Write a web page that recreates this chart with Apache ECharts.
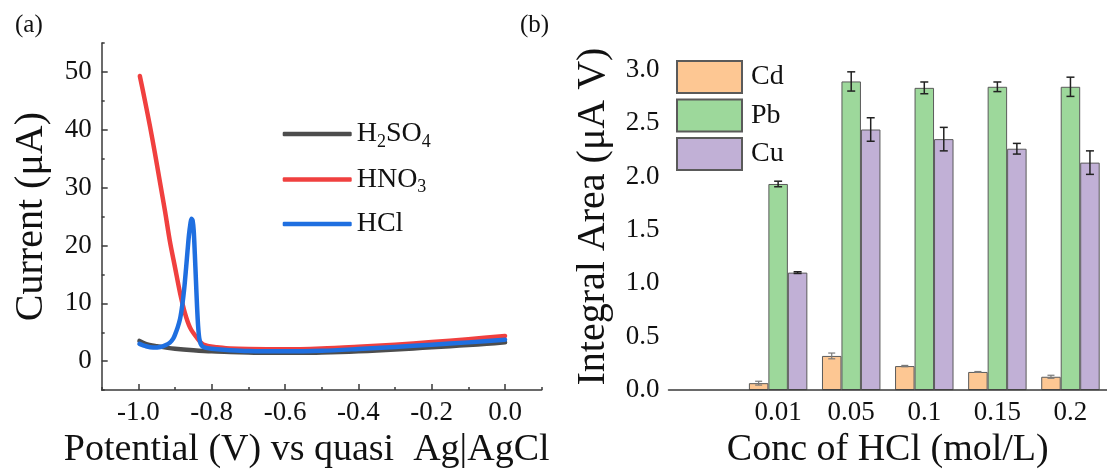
<!DOCTYPE html>
<html>
<head>
<meta charset="utf-8">
<script src="https://cdn.jsdelivr.net/npm/echarts@6/dist/echarts.min.js"></script>
<style>
  html, body { margin: 0; padding: 0; background: #fff; }
  #chart { width: 1107px; height: 474px; }
</style>
</head>
<body>
<div id="chart"></div>
<script>
// ---- Panel (a): current vs potential in three acids ----
const h2so4V = [-0.997, -0.98, -0.95, -0.92, -0.9, -0.85, -0.8, -0.75, -0.7, -0.65, -0.6, -0.55, -0.5, -0.45, -0.4, -0.35, -0.3, -0.25, -0.2, -0.15, -0.1, -0.05, 0.0];
const h2so4I = [3.5, 3.0, 2.6, 2.3, 2.15, 1.9, 1.7, 1.6, 1.5, 1.45, 1.45, 1.45, 1.5, 1.6, 1.7, 1.85, 2.0, 2.2, 2.4, 2.6, 2.8, 3.0, 3.25];

const hno3V = [-0.996, -0.982, -0.968, -0.955, -0.941, -0.927, -0.914, -0.900, -0.886, -0.873, -0.859, -0.841, -0.823, -0.786, -0.75, -0.7, -0.6, -0.5, -0.4, -0.3, -0.2, -0.1, 0.0];
const hno3I = [49.3, 45.0, 40.5, 36.0, 30.9, 25.8, 20.7, 16.2, 11.7, 8.3, 5.8, 4.1, 2.9, 2.4, 2.2, 2.1, 2.05, 2.2, 2.5, 2.85, 3.3, 3.8, 4.35];

const hclV = [-0.997, -0.98, -0.96, -0.94, -0.925, -0.914, -0.905, -0.9, -0.893, -0.886, -0.88, -0.875, -0.87, -0.866, -0.862, -0.858, -0.855, -0.852, -0.849, -0.846, -0.843, -0.84, -0.837, -0.834, -0.83, -0.824, -0.815, -0.8, -0.75, -0.7, -0.6, -0.5, -0.4, -0.3, -0.2, -0.1, 0.0];
const hclI = [3.0, 2.6, 2.35, 2.45, 2.8, 3.2, 3.9, 4.6, 5.8, 7.4, 9.8, 12.5, 16.0, 19.0, 21.8, 23.8, 24.6, 24.3, 22.5, 18.5, 14.0, 9.5, 6.0, 4.0, 3.0, 2.5, 2.3, 2.15, 1.9, 1.75, 1.7, 1.8, 2.1, 2.45, 2.85, 3.25, 3.7];

const potentialTicks = [-1.0, -0.8, -0.6, -0.4, -0.2, 0.0];
const currentTicks = [0, 10, 20, 30, 40, 50];

// ---- Panel (b): integral peak area vs HCl concentration ----
const concLabels = ['', '0.01', '0.05', '0.1', '0.15', '0.2'];
const cdArea = [null, 0.065, 0.32, 0.225, 0.17, 0.125];
const pbArea = [null, 1.93, 2.89, 2.83, 2.84, 2.84];
const cuArea = [null, 1.10, 2.44, 2.35, 2.26, 2.13];
const cdErr = [null, 0.018, 0.027, 0.006, 0.004, 0.014];
const pbErr = [null, 0.026, 0.09, 0.055, 0.045, 0.09];
const cuErr = [null, 0.008, 0.11, 0.11, 0.05, 0.11];
const areaTicks = [0, 0.5, 1.0, 1.5, 2.0, 2.5, 3.0];

const FONT = 'Liberation Serif';
const AXIS_COLOR = '#3a3a3a';

function pairs(xs, ys) { return xs.map((x, i) => [x, ys[i]]); }

function errData(vals, errs) {
  const out = [];
  vals.forEach((v, i) => { if (v != null) out.push([i, v, errs[i]]); });
  return out;
}

// error bars placed at the centre of the n-th bar within each category
function errRender(slot, color, lw, capHalf) {
  return function (params, api) {
    const ci = api.value(0), v = api.value(1), e = api.value(2);
    const band = api.size([1, 0])[0];
    const bw = band * 0.8 / 3;
    const c = api.coord([ci, v]);
    const x = c[0] + (slot - 1) * bw;
    const top = api.coord([ci, v + e])[1];
    const bot = api.coord([ci, v - e])[1];
    const st = { stroke: color, lineWidth: lw };
    return {
      type: 'group',
      children: [
        { type: 'line', shape: { x1: x, y1: top, x2: x, y2: bot }, style: st },
        { type: 'line', shape: { x1: x - capHalf, y1: top, x2: x + capHalf, y2: top }, style: st },
        { type: 'line', shape: { x1: x - capHalf, y1: bot, x2: x + capHalf, y2: bot }, style: st }
      ]
    };
  };
}

const tickLabel = { fontFamily: FONT, fontSize: 27, color: '#111' };
const nameStyle = { fontFamily: FONT, fontSize: 38, color: '#111' };
const yNameStyle = { fontFamily: FONT, fontSize: 40, color: '#111' };

const sub = (s) => '{s|' + s + '}';
const acidNames = {
  'H2SO4': '{a|H}' + sub('2') + '{a|SO}' + sub('4'),
  'HNO3': '{a|HNO}' + sub('3'),
  'HCl': '{a|HCl}'
};

const chart = echarts.init(document.getElementById('chart'), null, { renderer: 'canvas' });

const option = {
  backgroundColor: '#ffffff',
  animation: false,
  textStyle: { fontFamily: FONT, color: '#111' },
  title: [
    { text: '(a)', left: 10, top: 8, textStyle: { fontFamily: FONT, fontSize: 25, fontWeight: 'normal', color: '#111' } },
    { text: '(b)', left: 515, top: 8, textStyle: { fontFamily: FONT, fontSize: 25, fontWeight: 'normal', color: '#111' } }
  ],
  grid: [
    { left: 101.7, top: 43, width: 440, height: 355 },
    { left: 668.5, top: 43, width: 440.5, height: 355 }
  ],
  legend: [
    {
      data: ['H2SO4', 'HNO3', 'HCl'],
      orient: 'vertical',
      left: 282.7, top: 117, padding: 0,
      icon: 'roundRect',
      itemWidth: 69, itemHeight: 4.5, itemGap: 11.5,
      formatter: (n) => acidNames[n],
      textStyle: {
        fontFamily: FONT, fontSize: 28, color: '#111', lineHeight: 32,
        rich: {
          a: { fontFamily: FONT, fontSize: 28, color: '#111', lineHeight: 32 },
          s: { fontFamily: FONT, fontSize: 18, color: '#111', lineHeight: 18, padding: [16, 0, 0, 0] }
        }
      }
    },
    {
      data: ['Cd', 'Pb', 'Cu'],
      orient: 'vertical',
      left: 676, top: 60, padding: 0,
      icon: 'rect',
      itemWidth: 65, itemHeight: 32, itemGap: 4.5,
      textStyle: { fontFamily: FONT, fontSize: 28, color: '#111', padding: [0, 0, 0, 4] }
    }
  ],
  xAxis: [
    {
      gridIndex: 0, type: 'value', position: 'bottom',
      min: -1.1, max: 0.1,
      name: 'Potential (V) vs quasi  Ag|AgCl', nameLocation: 'middle', nameGap: 32,
      nameTextStyle: Object.assign({ padding: [0, 30, 0, 0] }, nameStyle),
      axisLine: { onZero: false, lineStyle: { color: AXIS_COLOR, width: 1.5 } },
      axisTick: { inside: true, length: 6, customValues: potentialTicks, lineStyle: { color: AXIS_COLOR, width: 1.5 } },
      axisLabel: Object.assign({ customValues: potentialTicks, margin: 9, formatter: (v) => v.toFixed(1) }, tickLabel),
      splitLine: { show: false }
    },
    {
      gridIndex: 0, type: 'value', position: 'bottom', offset: 0,
      min: -1.1, max: 0.1, interval: 0.1,
      axisLine: { show: false, onZero: false },
      axisTick: { inside: true, length: 3, lineStyle: { color: AXIS_COLOR, width: 1.5 } },
      axisLabel: { show: false },
      splitLine: { show: false }
    },
    {
      gridIndex: 1, type: 'category', position: 'bottom', z: 5,
      data: concLabels,
      name: 'Conc of HCl (mol/L)', nameLocation: 'middle', nameGap: 32,
      nameTextStyle: nameStyle,
      axisLine: { onZero: false, lineStyle: { color: AXIS_COLOR, width: 1.5 } },
      axisTick: { inside: true, length: 6, alignWithLabel: true, lineStyle: { color: AXIS_COLOR, width: 1.5 } },
      axisLabel: Object.assign({ margin: 9, interval: 0 }, tickLabel),
      splitLine: { show: false }
    },
    {
      gridIndex: 1, type: 'category', position: 'bottom', offset: 0, z: 5,
      data: concLabels,
      axisLine: { show: false, onZero: false },
      axisTick: { inside: true, length: 3, interval: 0, lineStyle: { color: AXIS_COLOR, width: 1.5 } },
      axisLabel: { show: false },
      splitLine: { show: false }
    }
  ],
  yAxis: [
    {
      gridIndex: 0, type: 'value', position: 'left',
      min: -5, max: 55,
      name: 'Current (μA)', nameLocation: 'middle', nameGap: 50,
      nameTextStyle: yNameStyle,
      axisLine: { onZero: false, lineStyle: { color: AXIS_COLOR, width: 1.5 } },
      axisTick: { inside: true, length: 6, customValues: currentTicks, lineStyle: { color: AXIS_COLOR, width: 1.5 } },
      axisLabel: Object.assign({ customValues: currentTicks, margin: 10 }, tickLabel),
      splitLine: { show: false }
    },
    {
      gridIndex: 0, type: 'value', position: 'left', offset: 0,
      min: -5, max: 55, interval: 5,
      axisLine: { show: false, onZero: false },
      axisTick: { inside: true, length: 3, lineStyle: { color: AXIS_COLOR, width: 1.5 } },
      axisLabel: { show: false },
      splitLine: { show: false }
    },
    {
      gridIndex: 1, type: 'value', position: 'left',
      min: 0, max: 3.25,
      name: 'Integral Area (μA V)', nameLocation: 'middle', nameGap: 55,
      nameTextStyle: yNameStyle,
      axisLine: { onZero: false, lineStyle: { color: AXIS_COLOR, width: 1.5 } },
      axisTick: { inside: true, length: 6, customValues: areaTicks, lineStyle: { color: AXIS_COLOR, width: 1.5 } },
      axisLabel: Object.assign({ customValues: areaTicks, margin: 9, formatter: (v) => v.toFixed(1) }, tickLabel),
      splitLine: { show: false }
    },
    {
      gridIndex: 1, type: 'value', position: 'left', offset: 0,
      min: 0, max: 3.25, interval: 0.25,
      axisLine: { show: false, onZero: false },
      axisTick: { inside: true, length: 3, lineStyle: { color: AXIS_COLOR, width: 1.5 } },
      axisLabel: { show: false },
      splitLine: { show: false }
    }
  ],
  series: [
    {
      name: 'H2SO4', type: 'line', xAxisIndex: 0, yAxisIndex: 0,
      data: pairs(h2so4V, h2so4I), showSymbol: false, symbol: 'none', smooth: 0.3,
      lineStyle: { color: '#4d4d4d', width: 4.5, cap: 'round', join: 'round' }, itemStyle: { color: '#4d4d4d' }
    },
    {
      name: 'HNO3', type: 'line', xAxisIndex: 0, yAxisIndex: 0,
      data: pairs(hno3V, hno3I), showSymbol: false, symbol: 'none', smooth: 0.3,
      lineStyle: { color: '#f0403f', width: 4.5, cap: 'round', join: 'round' }, itemStyle: { color: '#f0403f' }
    },
    {
      name: 'HCl', type: 'line', xAxisIndex: 0, yAxisIndex: 0,
      data: pairs(hclV, hclI), showSymbol: false, symbol: 'none', smooth: 0.3,
      lineStyle: { color: '#1f6fe0', width: 4.5, cap: 'round', join: 'round' }, itemStyle: { color: '#1f6fe0' }
    },
    {
      name: 'Cd', type: 'bar', xAxisIndex: 2, yAxisIndex: 2,
      data: cdArea, barGap: '0%', barCategoryGap: '20%',
      itemStyle: { color: '#fdc793', borderColor: '#5a5a5a', borderWidth: 1 }
    },
    {
      name: 'Pb', type: 'bar', xAxisIndex: 2, yAxisIndex: 2,
      data: pbArea, barGap: '0%', barCategoryGap: '20%',
      itemStyle: { color: '#9dd89b', borderColor: '#5a5a5a', borderWidth: 1 }
    },
    {
      name: 'Cu', type: 'bar', xAxisIndex: 2, yAxisIndex: 2,
      data: cuArea, barGap: '0%', barCategoryGap: '20%',
      itemStyle: { color: '#c1b0d6', borderColor: '#5a5a5a', borderWidth: 1 }
    },
    {
      type: 'custom', xAxisIndex: 2, yAxisIndex: 2, z: 6,
      data: errData(cdArea, cdErr), encode: { x: 0, y: 1 },
      renderItem: errRender(0, '#7a7a7a', 1.2, 3.5)
    },
    {
      type: 'custom', xAxisIndex: 2, yAxisIndex: 2, z: 6,
      data: errData(pbArea, pbErr), encode: { x: 0, y: 1 },
      renderItem: errRender(1, '#222', 1.5, 4)
    },
    {
      type: 'custom', xAxisIndex: 2, yAxisIndex: 2, z: 6,
      data: errData(cuArea, cuErr), encode: { x: 0, y: 1 },
      renderItem: errRender(2, '#222', 1.5, 4)
    }
  ]
};

chart.setOption(option);
</script>
</body>
</html>
